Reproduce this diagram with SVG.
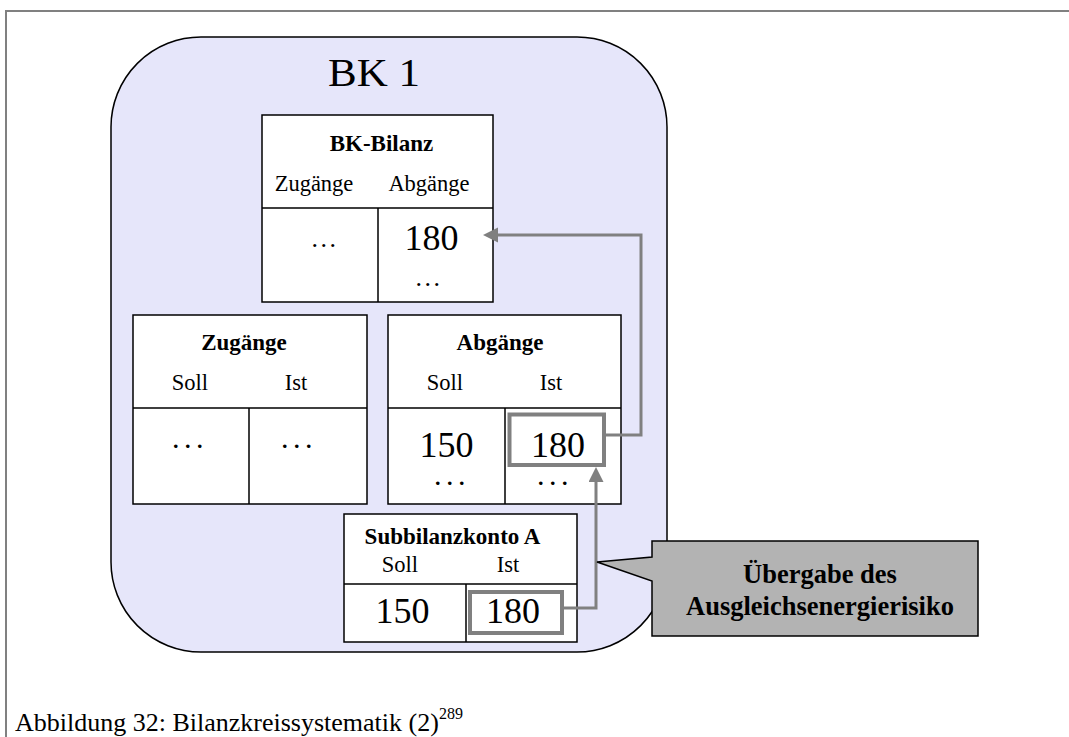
<svg xmlns="http://www.w3.org/2000/svg" width="1069" height="737" viewBox="0 0 1069 737">
  <style>
    .t { font-family: "Liberation Serif", "Times New Roman", serif; fill: #000; }
    .b { font-weight: bold; }
    .m { text-anchor: middle; }
    .box { fill: #fff; stroke: #000; stroke-width: 1.5; }
    .rule { fill: none; stroke: #000; stroke-width: 1.5; }
    .hl { fill: #fff; stroke: #808080; stroke-width: 4; }
    .conn { fill: none; stroke: #808080; stroke-width: 3; }
    .dots { font-size: 26px; letter-spacing: 2.5px; }
    .bdots { font-size: 22px; font-weight: bold; letter-spacing: 6.5px; }
  </style>
  <defs>
    <marker id="arrow" markerUnits="userSpaceOnUse" markerWidth="16" markerHeight="16" refX="0" refY="7.5" orient="auto">
      <path d="M0,0 L15,7.5 L0,15 Z" fill="#808080"/>
    </marker>
  </defs>

  <rect width="1069" height="737" fill="#fff"/>

  <!-- page frame -->
  <path d="M6,740 V11 H1072" fill="none" stroke="#808080" stroke-width="2"/>

  <!-- balancing group container -->
  <g id="bk1">
    <rect x="111" y="37" width="556" height="615" rx="90" ry="90" fill="#e6e6fa" stroke="#000" stroke-width="1.5"/>
    <text class="t" x="328" y="86" font-size="40" textLength="92" lengthAdjust="spacingAndGlyphs">BK 1</text>
  </g>

  <!-- BK balance sheet -->
  <g id="bk-bilanz">
    <rect class="box" x="262" y="115" width="231" height="187"/>
    <path class="rule" d="M262,208 H493 M378,208 V302"/>
    <text class="t b m" x="381.5" y="150.7" font-size="23">BK-Bilanz</text>
    <text class="t m" x="314" y="190.7" font-size="22.5">Zugänge</text>
    <text class="t m" x="429" y="190.7" font-size="22.5">Abgänge</text>
    <text class="t m dots" x="325" y="247">...</text>
    <text class="t m" x="431.5" y="250" font-size="36">180</text>
    <text class="t m dots" x="429" y="286">...</text>
  </g>

  <!-- inflows account -->
  <g id="zugaenge">
    <rect class="box" x="133" y="315" width="234" height="189"/>
    <path class="rule" d="M133,408 H367 M249,408 V504"/>
    <text class="t b m" x="244" y="350" font-size="23">Zugänge</text>
    <text class="t m" x="190" y="390" font-size="22.5">Soll</text>
    <text class="t m" x="296" y="390" font-size="22.5">Ist</text>
    <text class="t m bdots" x="191" y="448">...</text>
    <text class="t m bdots" x="300" y="448">...</text>
  </g>

  <!-- outflows account -->
  <g id="abgaenge">
    <rect class="box" x="388" y="315" width="233" height="189"/>
    <path class="rule" d="M388,408 H621 M505,408 V504"/>
    <text class="t b m" x="500" y="350" font-size="23">Abgänge</text>
    <text class="t m" x="445" y="390" font-size="22.5">Soll</text>
    <text class="t m" x="551" y="390" font-size="22.5">Ist</text>
    <text class="t m" x="446.5" y="456.7" font-size="36">150</text>
    <rect class="hl" x="509.5" y="414.5" width="94.5" height="50.5"/>
    <text class="t m" x="558" y="456.7" font-size="36">180</text>
    <text class="t m bdots" x="453" y="485">...</text>
    <text class="t m bdots" x="556" y="485">...</text>
  </g>

  <!-- sub-balance account A -->
  <g id="subbilanzkonto-a">
    <rect class="box" x="344" y="514" width="233" height="128"/>
    <path class="rule" d="M344,584 H577 M466,584 V642"/>
    <text class="t b m" x="452.5" y="544.3" font-size="23">Subbilanzkonto A</text>
    <text class="t m" x="400" y="571.7" font-size="22.5">Soll</text>
    <text class="t m" x="508" y="571.7" font-size="22.5">Ist</text>
    <text class="t m" x="402.5" y="623.3" font-size="36">150</text>
    <rect class="hl" x="470" y="592" width="92" height="41"/>
    <text class="t m" x="513" y="623.3" font-size="36">180</text>
  </g>

  <!-- transfers between accounts -->
  <g id="connectors">
    <path class="conn" d="M604,435 H641 V235 H498" marker-end="url(#arrow)"/>
    <path class="conn" d="M562,608 H596 V482" marker-end="url(#arrow)"/>
  </g>

  <!-- callout -->
  <g id="callout">
    <path d="M652,541 H978 V636 H652 V581 L597,562 L652,557 Z" fill="#b3b3b3" stroke="#000" stroke-width="1.5"/>
    <text class="t b m" x="820" y="583" font-size="26.5" fill="#1a1a1a">Übergabe des</text>
    <text class="t b m" x="820" y="615" font-size="26.5" fill="#1a1a1a">Ausgleichsenergierisiko</text>
  </g>

  <!-- caption -->
  <text class="t" x="15" y="731" font-size="26">Abbildung 32: Bilanzkreissystematik (2)<tspan font-size="16" dy="-12">289</tspan></text>
</svg>
